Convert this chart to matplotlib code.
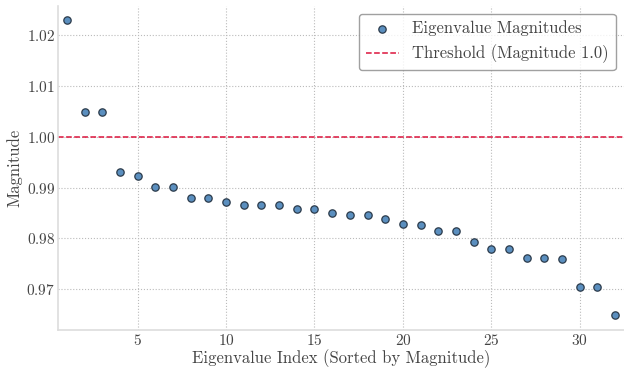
import matplotlib
matplotlib.use("Agg")
import matplotlib.pyplot as plt

# magnitudes of the eigenvalues, sorted
index = list(range(1, 33))
magnitude = [1.0230, 1.0049, 1.0049, 0.9931, 0.9922, 0.9901, 0.9901, 0.9879,
             0.9879, 0.9871, 0.9866, 0.9865, 0.9865, 0.9858, 0.9858, 0.9850,
             0.9846, 0.9846, 0.9838, 0.9829, 0.9826, 0.9815, 0.9815, 0.9792,
             0.9778, 0.9778, 0.9762, 0.9762, 0.9759, 0.9703, 0.9703, 0.9648]
threshold = 1.0

plt.style.use("seaborn-v0_8-whitegrid")
plt.rcParams["font.family"] = "serif"
plt.rcParams["font.serif"] = ["cmr10"]
plt.rcParams["axes.formatter.use_mathtext"] = True
plt.rcParams["mathtext.fontset"] = "cm"

fig, ax = plt.subplots(figsize=(6.24, 3.68), dpi=100)
ax.scatter(index, magnitude, s=28, color="#5b8fbf", edgecolor="#2b3a4a",
           linewidth=0.9, label="Eigenvalue Magnitudes", zorder=3)
ax.axhline(threshold, color="#dc143c", linestyle="--", linewidth=1.1,
           label="Threshold (Magnitude 1.0)")

ax.set_xlim(0.5, 32.5)
ax.set_xlabel("Eigenvalue Index (Sorted by Magnitude)", fontsize=12,
              color="#444444", labelpad=1)
ax.set_ylabel("Magnitude", fontsize=12, color="#444444", labelpad=3)
ax.tick_params(labelsize=11, colors="#444444", pad=2)
ax.grid(True, linestyle=":", color="#bbbbbb", linewidth=0.8)
for s in ["top", "right"]:
    ax.spines[s].set_visible(False)
for s in ["left", "bottom"]:
    ax.spines[s].set_visible(True)
    ax.spines[s].set_color("#dddddd")
    ax.spines[s].set_linewidth(1.2)

leg = ax.legend(loc="upper right", fontsize=12, frameon=True, fancybox=True)
leg.get_frame().set_edgecolor("#888888")
for t in leg.get_texts():
    t.set_color("#444444")

fig.subplots_adjust(left=0.093, right=1.0, top=0.985, bottom=0.103)
fig.savefig("out.png", dpi=100)
